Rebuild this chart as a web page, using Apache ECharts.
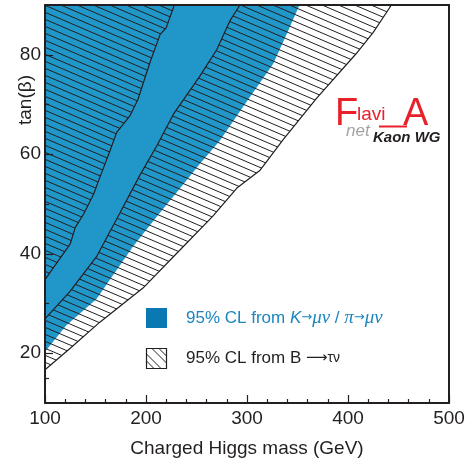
<!DOCTYPE html>
<html>
<head>
<meta charset="utf-8">
<script src="https://cdn.jsdelivr.net/npm/echarts@6/dist/echarts.min.js"></script>
<style>
  html, body { margin: 0; padding: 0; background: #fff; }
  #chart { width: 473px; height: 463px; }
</style>
</head>
<body>
<div id="chart"></div>
<script>
// axis ticks
var xRange = [100, 500];
var yRange = [10, 90];
var yMajorTicks = [20, 40, 60, 80];
var yMinorTicks = [15, 30, 50, 70];

// right edge of the K->mu nu / pi->mu nu excluded region (no line drawn)
var kaonEdge = [[100, 20.3], [121, 25.6], [151, 30.9], [187, 41.4], [210, 47.3], [234, 53.2],
  [253, 58], [273, 62.7], [296, 69.5], [326, 78.2], [342, 85.4], [352, 90]];
// B -> tau nu contours (left, inner, outer)
var tauLeft = [[100, 34.8], [125, 42], [130, 45.3], [138, 47.9], [148, 51.9], [154, 55.2],
  [164, 60.5], [171, 64.4], [184, 67.7], [192, 71], [204, 78.5], [214, 84.1], [220, 85.4], [228, 90]];
var tauInner = [[100, 26.9], [125, 32.5], [151, 39.4], [171, 47], [194, 55.8], [211, 61.8],
  [227, 68], [253, 75.6], [270, 81], [283, 86.8], [293, 90]];
var tauOuter = [[100, 16.7], [125, 21], [154, 26.2], [197, 33.1], [230, 40], [266, 47.5],
  [290, 53.2], [313, 56.8], [336, 63], [369, 71.3], [408, 80.2], [425, 84.5], [443, 90]];

var ink = '#231f20';
var blue = '#2196c9';

// repeating hatch tile, lines going down to the right
function hatchTile() {
  var W = 98, H = 42, step = 7;
  var c = document.createElement('canvas');
  c.width = W; c.height = H;
  var g = c.getContext('2d');
  g.strokeStyle = ink;
  g.lineWidth = 1;
  for (var n = -8; n <= 8; n++) {
    g.beginPath();
    g.moveTo(0, n * step);
    g.lineTo(W, n * step + H);
    g.stroke();
  }
  return c;
}
var hatch = { image: hatchTile(), repeat: 'repeat' };

function band(name, data, fill, lineW) {
  return {
    name: name,
    type: 'line',
    data: data,
    symbol: 'none',
    silent: true,
    lineStyle: { color: ink, width: lineW },
    areaStyle: { color: fill, opacity: 1, origin: 'end' }
  };
}

var myChart = echarts.init(document.getElementById('chart'));
var txt = { color: ink, fontFamily: 'Liberation Sans', fontSize: 19 };

var option = {
  animation: false,
  grid: { left: 45, right: 24, top: 5, bottom: 55 },
  xAxis: [{
    type: 'value', min: xRange[0], max: xRange[1], interval: 100, z: 10,
    axisLine: { onZero: false, lineStyle: { color: ink, width: 2 } },
    axisTick: { inside: true, length: 8, lineStyle: { color: ink, width: 1.2 } },
    minorTick: { show: true, splitNumber: 5, length: 4, lineStyle: { color: ink, width: 1.2 } },
    splitLine: { show: false },
    axisLabel: { color: ink, fontFamily: 'Liberation Sans', fontSize: 19, margin: 6 },
    name: 'Charged Higgs mass (GeV)', nameLocation: 'middle', nameGap: 36, nameTextStyle: txt
  }, {
    type: 'value', position: 'top', min: xRange[0], max: xRange[1], z: 10,
    axisLine: { lineStyle: { color: ink, width: 2 } },
    axisTick: { show: false }, axisLabel: { show: false }, splitLine: { show: false }
  }],
  yAxis: [{
    type: 'value', position: 'left', min: yRange[0], max: yRange[1], z: 10,
    axisLine: { onZero: false, lineStyle: { color: ink, width: 2 } },
    axisTick: { inside: true, length: 8, customValues: yMajorTicks, lineStyle: { color: ink, width: 1.2 } },
    splitLine: { show: false },
    axisLabel: { customValues: yMajorTicks, color: ink, fontFamily: 'Liberation Sans', fontSize: 19, margin: 4 }
  }, {
    type: 'value', position: 'left', min: yRange[0], max: yRange[1], z: 10,
    axisLine: { show: false },
    axisTick: { inside: true, length: 4, customValues: yMinorTicks, lineStyle: { color: ink, width: 1.2 } },
    axisLabel: { show: false }, splitLine: { show: false }
  }, {
    type: 'value', position: 'right', min: yRange[0], max: yRange[1], z: 10,
    axisLine: { lineStyle: { color: ink, width: 2 } },
    axisTick: { show: false }, axisLabel: { show: false }, splitLine: { show: false }
  }],
  series: [
    band('kaon', kaonEdge, blue, 0),
    band('tauOuter', tauOuter, hatch, 1.2),
    band('tauInner', tauInner, blue, 1.2),
    band('tauLeft', tauLeft, hatch, 1.2)
  ],
  graphic: [
    { type: 'text', x: 26, y: 100, rotation: Math.PI / 2,
      style: { text: 'tan(β)', fill: ink, fontFamily: 'Liberation Sans', fontSize: 19,
        align: 'center', verticalAlign: 'middle', textAlign: 'center', textVerticalAlign: 'middle' } },
    // legend
    { type: 'rect', shape: { x: 146, y: 308, width: 21, height: 20 }, style: { fill: '#0a78b2' } },
    { type: 'text', x: 186, y: 318,
      style: {
        text: '{a|95% CL from }{k|K}{r|→}{g|μν}{a| / }{g|π}{r|→}{g|μν}',
        verticalAlign: 'middle', textVerticalAlign: 'middle',
        rich: {
          a: { fill: '#1b86bf', fontFamily: 'Liberation Sans', fontSize: 17 },
          k: { fill: '#1b86bf', fontFamily: 'Liberation Sans', fontSize: 17, fontStyle: 'italic' },
          r: { fill: '#1b86bf', fontFamily: 'DejaVu Sans', fontSize: 13 },
          g: { fill: '#1b86bf', fontFamily: 'Liberation Serif', fontSize: 19, fontStyle: 'italic' }
        }
      } },
    { type: 'group', children: [
      { type: 'rect', shape: { x: 146.5, y: 348.5, width: 20, height: 20 }, style: { fill: '#fff', stroke: ink, lineWidth: 1.2 } },
      { type: 'line', shape: { x1: 146.5, y1: 354, x2: 161, y2: 368.5 }, style: { stroke: ink, lineWidth: 1 } },
      { type: 'line', shape: { x1: 146.5, y1: 361, x2: 154, y2: 368.5 }, style: { stroke: ink, lineWidth: 1 } },
      { type: 'line', shape: { x1: 152, y1: 348.5, x2: 166.5, y2: 363 }, style: { stroke: ink, lineWidth: 1 } },
      { type: 'line', shape: { x1: 159, y1: 348.5, x2: 166.5, y2: 356 }, style: { stroke: ink, lineWidth: 1 } }
    ] },
    { type: 'text', x: 186, y: 358,
      style: {
        text: '{a|95% CL from B }{r|⟶}{t|τν}',
        verticalAlign: 'middle', textVerticalAlign: 'middle',
        rich: {
          a: { fill: ink, fontFamily: 'Liberation Sans', fontSize: 17 },
          r: { fill: ink, fontFamily: 'DejaVu Sans', fontSize: 15 },
          t: { fill: ink, fontFamily: 'Liberation Sans', fontSize: 14 }
        }
      } },
    // FlaviA net logo
    { type: 'text', x: 335, y: 115, style: { text: 'F', fill: '#e8202a', fontFamily: 'Liberation Sans', fontSize: 38,
        verticalAlign: 'middle', textVerticalAlign: 'middle' } },
    { type: 'text', x: 357, y: 115, style: { text: 'lavi', fill: '#e8202a', fontFamily: 'Liberation Sans', fontSize: 19,
        verticalAlign: 'middle', textVerticalAlign: 'middle' } },
    { type: 'line', shape: { x1: 379, y1: 126.5, x2: 407, y2: 126.5 }, style: { stroke: '#e8202a', lineWidth: 2 } },
    { type: 'text', x: 403, y: 115, style: { text: 'A', fill: '#e8202a', fontFamily: 'Liberation Sans', fontSize: 38,
        verticalAlign: 'middle', textVerticalAlign: 'middle' } },
    { type: 'text', x: 346, y: 131, style: { text: 'net', fill: '#a3a3a3', fontFamily: 'Liberation Sans', fontSize: 17,
        fontStyle: 'italic', verticalAlign: 'middle', textVerticalAlign: 'middle' } },
    { type: 'text', x: 373, y: 138, style: { text: 'Kaon WG', fill: ink, fontFamily: 'Liberation Sans', fontSize: 15,
        fontStyle: 'italic', fontWeight: 'bold', verticalAlign: 'middle', textVerticalAlign: 'middle' } }
  ]
};

myChart.setOption(option);
</script>
</body>
</html>
